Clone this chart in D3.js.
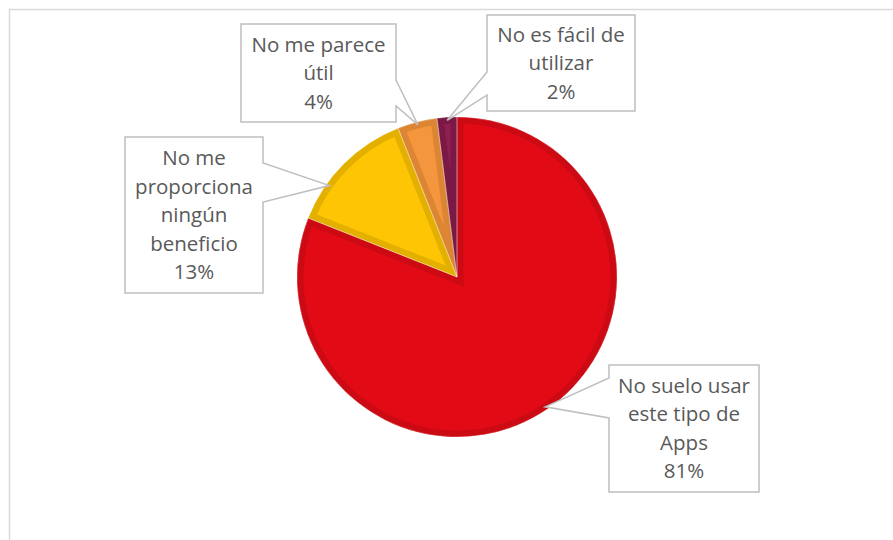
<!DOCTYPE html>
<html>
<head>
<meta charset="utf-8">
<script src="https://cdn.jsdelivr.net/npm/d3@7"></script>
<style>
  html, body { margin: 0; padding: 0; background: #fff; }
  svg { display: block; }
</style>
</head>
<body>
<div id="chart"></div>
<script>
// data
const categories = ['No suelo usar este tipo de Apps', 'No me proporciona ningún beneficio', 'No me parece útil', 'No es fácil de utilizar'];
const values = [81, 13, 4, 2];
const labelLines = [
  ['No suelo usar', 'este tipo de', 'Apps'],
  ['No me', 'proporciona', 'ningún', 'beneficio'],
  ['No me parece', 'útil'],
  ['No es fácil de', 'utilizar']
];
const fills = ['#e10a15', '#fdc503', '#f4963e', '#8f1f50'];
const edges = ['#cc0a14', '#e4b000', '#dc8634', '#7a1a44'];

// label callout layout (box + where the pointer leaves the box)
const boxes = [
  { x: 609, y: 365, w: 150, h: 127, side: 'left', w0: 13, w1: 53, frac: 0.5 },
  { x: 125, y: 137, w: 138, h: 156, side: 'right', w0: 26, w1: 65, frac: 0.3 },
  { x: 241, y: 24, w: 155, h: 98, side: 'right', w0: 56, w1: 82, frac: 0.5 },
  { x: 487, y: 15, w: 148, h: 96, side: 'left', w0: 57, w1: 80, frac: 0.5 }
];

const W = 893, H = 540;
const cx = 457, cy = 277, r = 160;

const svg = d3.select('#chart').append('svg')
  .attr('width', W).attr('height', H);

// chart area border
svg.append('rect')
  .attr('x', 9.5).attr('y', 9.5)
  .attr('width', W).attr('height', H)
  .attr('fill', '#fff')
  .attr('stroke', '#d9d9d9')
  .attr('stroke-width', 1.5);

const pie = d3.pie().sort(null).value(d => d);
const arcs = pie(values);
const arc = d3.arc().innerRadius(0).outerRadius(r);

const g = svg.append('g').attr('transform', `translate(${cx},${cy})`);
const defs = svg.append('defs');

arcs.forEach((a, i) => {
  defs.append('clipPath').attr('id', 'clip' + i)
    .append('path').attr('d', arc(a));
});

// slices, darker band on the inside of each edge
g.selectAll('.slice')
  .data(arcs)
  .enter()
  .append('path')
  .attr('class', 'slice')
  .attr('d', arc)
  .attr('fill', (d, i) => fills[i])
  .attr('stroke', (d, i) => edges[i])
  .attr('stroke-width', 13)
  .attr('stroke-linejoin', 'miter')
  .attr('clip-path', (d, i) => `url(#clip${i})`);

// thin light separators
g.selectAll('.sep')
  .data(arcs)
  .enter()
  .append('path')
  .attr('d', arc)
  .attr('fill', 'none')
  .attr('stroke', 'rgba(255,255,255,0.35)')
  .attr('stroke-width', 0.8);

// callouts
const labels = svg.selectAll('.callout')
  .data(arcs)
  .enter()
  .append('g')
  .attr('class', 'callout');

labels.append('path')
  .attr('d', (d, i) => {
    const b = boxes[i];
    const ang = d.startAngle + b.frac * (d.endAngle - d.startAngle);
    const tx = cx + (r - 3) * Math.sin(ang);
    const ty = cy - (r - 3) * Math.cos(ang);
    if (b.side === 'right') {
      return `M${b.x},${b.y}H${b.x + b.w}V${b.y + b.w0}L${tx},${ty}L${b.x + b.w},${b.y + b.w1}V${b.y + b.h}H${b.x}Z`;
    }
    return `M${b.x},${b.y}H${b.x + b.w}V${b.y + b.h}H${b.x}V${b.y + b.w1}L${tx},${ty}L${b.x},${b.y + b.w0}Z`;
  })
  .attr('fill', '#fff')
  .attr('stroke', '#bfbfbf')
  .attr('stroke-width', 1.5);

labels.each(function(d, i) {
  const b = boxes[i];
  const lines = labelLines[i].concat([Math.round(d.value) + '%']);
  const lh = 28.5;
  const top = b.y + b.h / 2 - (lines.length - 1) * lh / 2;
  const t = d3.select(this).append('text')
    .attr('text-anchor', 'middle')
    .attr('font-family', 'Open Sans, sans-serif')
    .attr('font-size', '20.5px')
    .attr('fill', '#595959');
  lines.forEach((s, k) => {
    t.append('tspan')
      .attr('x', b.x + b.w / 2)
      .attr('y', top + k * lh)
      .attr('dy', '0.35em')
      .text(s);
  });
});
</script>
</body>
</html>
